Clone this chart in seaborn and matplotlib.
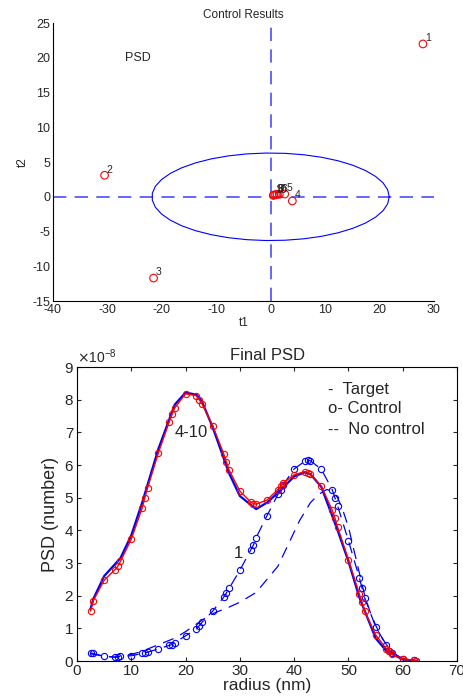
import numpy as np
import pandas as pd
import matplotlib
matplotlib.use("Agg")
import matplotlib.pyplot as plt
import matplotlib.ticker as mticker
import seaborn as sns

# --- top: score plot data ---
t1 = [28.0, -30.5, -21.5, 4.0, 2.6, 1.6, 1.2, 0.9, 0.6, 0.5]
t2 = [22.0, 3.1, -11.7, -0.6, 0.4, 0.35, 0.35, 0.3, 0.25, 0.2]
point_labels = ["1", "2", "3", "4", "5", "6", "7", "8", "9", "10"]
ellipse_a = 21.8
ellipse_b = 6.3

# --- bottom: final PSD data (units of 1e-8) ---
r_ctrl = [2.5, 3, 5, 7, 7.5, 8, 10, 12, 12.5, 13, 15, 17, 17.5, 18, 20, 22, 22.5, 23,
          25, 27, 27.5, 28, 30, 32, 32.5, 33, 35, 37, 37.5, 38, 40, 42, 42.5, 43,
          45, 47, 47.5, 48, 50, 52, 52.5, 53, 55, 57, 57.5, 58, 60, 62, 62.5]
psd_ctrl = [1.53, 1.85, 2.47, 2.8, 2.9, 3.05, 3.73, 4.68, 5.0, 5.3, 6.38, 7.33, 7.55, 7.75,
            8.18, 8.12, 8.0, 7.88, 7.2, 6.35, 6.1, 5.85, 5.2, 4.87, 4.82, 4.8, 4.93, 5.25,
            5.35, 5.45, 5.7, 5.8, 5.77, 5.72, 5.35, 4.62, 4.38, 4.1, 3.1, 2.05, 1.8, 1.52,
            0.8, 0.37, 0.3, 0.2, 0.07, 0.02, 0.01]
psd_iter1 = [0.25, 0.23, 0.14, 0.12, 0.12, 0.15, 0.16, 0.23, 0.25, 0.27, 0.37, 0.48, 0.5,
             0.56, 0.77, 0.98, 1.08, 1.18, 1.53, 1.95, 2.08, 2.22, 2.78, 3.4, 3.55, 3.78,
             4.45, 5.1, 5.25, 5.4, 5.88, 6.12, 6.15, 6.13, 5.87, 5.25, 5.0, 4.75, 3.68,
             2.55, 2.23, 1.93, 1.05, 0.48, 0.32, 0.25, 0.07, 0.02, 0.01]

r_target = [2.5, 3, 5, 8, 10, 12, 15, 18, 20, 22, 23, 25, 28, 30, 33, 35, 37, 40, 42, 43,
            45, 48, 50, 52, 55, 57, 60, 62, 62.5]
psd_target = [1.6, 1.9, 2.6, 3.15, 3.85, 4.85, 6.5, 7.85, 8.22, 8.15, 7.95, 7.15, 5.75,
              5.05, 4.65, 4.85, 5.15, 5.65, 5.78, 5.72, 5.33, 4.0, 3.05, 1.95, 0.7, 0.3,
              0.05, 0.01, 0.0]

r_noctrl = [2.5, 5, 7, 10, 12, 15, 18, 20, 23, 25, 28, 30, 33, 35, 37, 39, 41, 43, 44.5,
            46, 47, 48, 49, 50, 51, 52, 53, 54, 55, 56, 57, 58, 59, 60, 61, 62]
psd_noctrl = [0.22, 0.15, 0.12, 0.2, 0.3, 0.5, 0.7, 0.9, 1.25, 1.45, 1.65, 1.8, 2.1, 2.5,
              2.9, 3.6, 4.3, 4.85, 5.1, 5.25, 5.2, 5.0, 4.6, 4.1, 3.4, 2.7, 2.0, 1.5, 1.1,
              0.75, 0.5, 0.3, 0.17, 0.08, 0.04, 0.02]

sns.set_style("white")
plt.rcParams['font.family'] = ['Liberation Sans', 'DejaVu Sans']
plt.rcParams['axes.unicode_minus'] = False

fig = plt.figure(figsize=(4.64, 7.0), dpi=100)

# ---------------- top plot ----------------
ax1 = fig.add_axes([0.114, 0.570, 0.821, 0.397])
scores = pd.DataFrame({"t1": t1, "t2": t2, "label": point_labels})
ax1.axvline(0, color="#4d4dff", ls=(0, (8, 5)), lw=1.2)
ax1.axhline(0, color="#4d4dff", ls=(0, (8, 5)), lw=1.2)
th = np.linspace(0, 2 * np.pi, 40)
ax1.plot(ellipse_a * np.cos(th), ellipse_b * np.sin(th), color="blue", lw=0.8)
sns.scatterplot(data=scores, x="t1", y="t2", ax=ax1, marker="o", s=30,
                facecolors="none", edgecolor="red", linewidth=0.8, zorder=3)
for x, y, lab in zip(t1, t2, point_labels):
    ax1.text(x + 0.4, y + 0.1, lab, fontsize=7.5, ha="left", va="bottom", zorder=4)
ax1.text(-26.8, 20, "PSD", fontsize=9, ha="left", va="center")
ax1.set_xlim(-40, 30)
ax1.set_ylim(-15, 25)
ax1.set_xticks(range(-40, 31, 10))
ax1.set_yticks(range(-15, 26, 5))
ax1.set_title("Control Results", fontsize=8.5, pad=4)
ax1.set_xlabel("t1", fontsize=8.5, labelpad=1)
ax1.set_ylabel("t2", fontsize=8.5, labelpad=2)
ax1.tick_params(direction="in", length=3, labelsize=9, pad=2)
for s in ["top", "right"]:
    ax1.spines[s].set_visible(False)
for s in ["left", "bottom"]:
    ax1.spines[s].set_color("black")
    ax1.spines[s].set_linewidth(0.8)

# ---------------- bottom plot ----------------
ax2 = fig.add_axes([0.166, 0.0557, 0.819, 0.420])
scale = 1e-8
ctrl = pd.DataFrame({"r": r_ctrl, "ctrl": np.array(psd_ctrl) * scale,
                     "iter1": np.array(psd_iter1) * scale})
tgt = pd.DataFrame({"r": r_target, "psd": np.array(psd_target) * scale})
noc = pd.DataFrame({"r": r_noctrl, "psd": np.array(psd_noctrl) * scale})

sns.lineplot(data=noc, x="r", y="psd", ax=ax2, color="blue", lw=0.9,
             linestyle=(0, (9, 6)))
sns.lineplot(data=ctrl, x="r", y="iter1", ax=ax2, color="blue", lw=0.9,
             linestyle=(0, (9, 6)), marker="o", markersize=4.5,
             markerfacecolor="none", markeredgecolor="blue", markeredgewidth=0.8)
sns.lineplot(data=tgt, x="r", y="psd", ax=ax2, color="blue", lw=1.6)
sns.lineplot(data=ctrl, x="r", y="ctrl", ax=ax2, color="red", lw=1.0,
             marker="o", markersize=4.5, markerfacecolor="none",
             markeredgecolor="red", markeredgewidth=0.8)

ax2.text(17.9, 7.0e-8, "4-10", fontsize=12, ha="left", va="center")
ax2.text(28.8, 3.3e-8, "1", fontsize=12, ha="left", va="center")
ax2.text(46.2, 8.3e-8, "-  Target", fontsize=12, ha="left", va="center")
ax2.text(46.2, 7.72e-8, "o- Control", fontsize=12, ha="left", va="center")
ax2.text(46.2, 7.1e-8, "--  No control", fontsize=12, ha="left", va="center")

ax2.set_xlim(0, 70)
ax2.set_ylim(0, 9e-8)
ax2.set_xticks(range(0, 71, 10))
ax2.set_yticks(np.arange(0, 10) * scale)
fmt = mticker.ScalarFormatter(useMathText=True)
fmt.set_powerlimits((0, 0))
ax2.yaxis.set_major_formatter(fmt)
ax2.yaxis.get_offset_text().set_fontsize(10)
ax2.set_title("Final PSD", fontsize=12, pad=5)
ax2.set_xlabel("radius (nm)", fontsize=12.5, labelpad=0)
ax2.set_ylabel("PSD (number)", fontsize=13, labelpad=4)
ax2.tick_params(direction="in", length=3, labelsize=11, pad=2,
                top=True, right=True, bottom=True, left=True)
for s in ax2.spines.values():
    s.set_visible(True)
    s.set_color("black")
    s.set_linewidth(0.8)

fig.savefig("out.png", dpi=100)
